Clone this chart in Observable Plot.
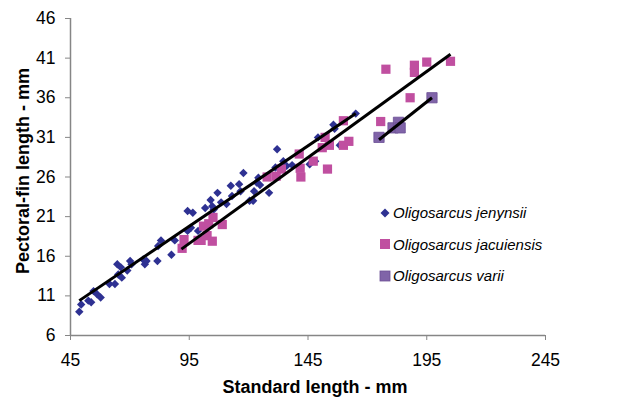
<!DOCTYPE html>
<html>
<head>
<meta charset="utf-8">
<script src="https://cdn.jsdelivr.net/npm/d3@7"></script>
<script src="https://cdn.jsdelivr.net/npm/@observablehq/plot@0.6"></script>
<style>
  html, body { margin: 0; padding: 0; background: #fff; }
  #wrap { position: relative; width: 631px; height: 402px; font-family: "Liberation Sans", Arial, sans-serif; }
  #legend { position: absolute; left: 379px; top: 197px; font-style: italic; font-size: 15px; color: #000; }
  #legend .row { height: 31.5px; display: flex; align-items: center; }
  #legend svg { margin-right: 2px; }
</style>
</head>
<body>
<div id="wrap"></div>
<script>
// Species names
const species = ["Oligosarcus jenynsii", "Oligosarcus jacuiensis", "Oligosarcus varii"];

// Oligosarcus jenynsii: standard length (mm), pectoral-fin length (mm)
const jenynsiiSL = [48.7, 49.5, 52.5, 53.7, 54.7, 56.2, 57.7, 61.4, 63.7, 64.7, 65.1, 66.6, 66.2, 68.9, 70.1, 70.7,
  75.6, 76.3, 77.0, 81.6, 81.9, 83.1, 87.5, 88.9, 94.3, 96.5, 94.3, 95.7, 98.7, 101.7, 104.0, 104.7, 105.3,
  106.9, 108.4, 110.7, 112.5, 113.0, 116.0, 116.6, 117.8, 120.4, 121.9, 122.3, 123.4, 124.1, 124.8, 128.6,
  131.3, 132.0, 134.6, 136.0, 138.3, 145.7, 148.0, 149.2, 155.7, 156.2, 158.4, 165.1];
const jenynsiiPF = [9.0, 9.9, 10.4, 10.2, 11.6, 11.2, 10.8, 12.5, 12.5, 15.0, 13.7, 13.3, 14.6, 14.2, 15.4, 15.0,
  15.6, 15.0, 15.4, 15.4, 17.3, 18.0, 16.2, 18.0, 21.7, 21.5, 19.2, 19.6, 19.2, 22.1, 23.1, 22.3, 21.9,
  24.0, 22.8, 22.6, 24.9, 23.6, 25.1, 24.2, 26.5, 23.0, 23.0, 24.2, 25.3, 25.9, 25.0, 24.0,
  27.2, 29.5, 28.0, 27.4, 27.5, 27.6, 28.0, 31.0, 32.6, 32.1, 30.0, 34.0];

// Oligosarcus jacuiensis
const jacuiensisSL = [92.0, 92.8, 98.7, 100.0, 101.0, 102.5, 103.2, 104.7, 105.0, 108.9, 127.8, 131.6, 133.8,
  141.3, 141.7, 142.0, 147.2, 151.0, 152.2, 153.2, 154.0, 159.9, 159.9, 162.2, 175.6, 177.8, 188.0, 189.8,
  189.8, 195.0, 205.0];
const jacuiensisPF = [17.0, 18.1, 18.0, 18.0, 19.8, 18.6, 20.1, 17.9, 20.9, 20.0, 26.0, 26.1, 27.0,
  28.9, 27.1, 26.0, 28.0, 29.7, 31.0, 27.0, 30.0, 33.1, 30.0, 30.5, 33.0, 39.6, 36.0, 40.1,
  39.2, 40.5, 40.6];

// Oligosarcus varii
const variiSL = [174.9, 180.8, 183.1, 183.8, 197.2];
const variiPF = [31.0, 32.2, 32.9, 32.2, 36.0];

// Fitted trend lines (end points)
const trendSpecies = ["Oligosarcus jenynsii", "Oligosarcus jacuiensis", "Oligosarcus varii"];
const trendX1 = [48.7, 91.7, 174.9];
const trendY1 = [10.4, 16.9, 30.7];
const trendX2 = [165.1, 205.0, 197.2];
const trendY2 = [34.0, 41.5, 36.0];

// Axis ticks
const xTicks = [45, 95, 145, 195, 245];
const yTicks = [6, 11, 16, 21, 26, 31, 36, 41, 46];

const xTitle = "Standard length - mm";
const yTitle = "Pectoral-fin length - mm";

const colors = {"Oligosarcus jenynsii": "#2E3192", "Oligosarcus jacuiensis": "#C04FA0", "Oligosarcus varii": "#8064A8"};

const jen = jenynsiiSL.map((x, i) => ({x, y: jenynsiiPF[i]}));
const jac = jacuiensisSL.map((x, i) => ({x, y: jacuiensisPF[i]}));
const va = variiSL.map((x, i) => ({x, y: variiPF[i]}));
const trends = trendSpecies.map((s, i) => ({s, x1: trendX1[i], y1: trendY1[i], x2: trendX2[i], y2: trendY2[i]}));

const chart = Plot.plot({
  width: 631,
  height: 402,
  marginLeft: 70,
  marginRight: 86,
  marginTop: 18,
  marginBottom: 67,
  style: {fontFamily: "'Liberation Sans', Arial, sans-serif", background: "#fff", color: "#000"},
  x: {type: "linear", domain: [45, 245], ticks: xTicks, label: null},
  y: {type: "linear", domain: [6, 46], ticks: yTicks, label: null},
  marks: [
    Plot.ruleX([45], {stroke: "#868686", strokeWidth: 1.5}),
    Plot.ruleY([6], {stroke: "#868686", strokeWidth: 1.5}),
    Plot.axisX({ticks: xTicks, tickSize: 5, tickPadding: 13, fontSize: 17.5, stroke: "#868686", label: null, tickFormat: d => String(d)}),
    Plot.axisY({ticks: yTicks, tickSize: 5, tickPadding: 10, fontSize: 17.5, stroke: "#868686", label: null, tickFormat: d => String(d)}),
    Plot.dot(jen, {x: "x", y: "y", symbol: "diamond2", r: 3.8, fill: colors["Oligosarcus jenynsii"], stroke: "none"}),
    Plot.dot(jac, {x: "x", y: "y", symbol: "square", r: 5.2, fill: colors["Oligosarcus jacuiensis"], stroke: "none"}),
    Plot.dot(va, {x: "x", y: "y", symbol: "square", r: 5.8, fill: colors["Oligosarcus varii"], stroke: "#6B4F95", strokeWidth: 0.8}),
    Plot.link(trends, {x1: "x1", y1: "y1", x2: "x2", y2: "y2", stroke: "#000", strokeWidth: 3}),
    Plot.text([xTitle], {text: d => d, frameAnchor: "bottom", dy: 52, dx: 7, fontSize: 18, fontWeight: "bold", fill: "#000", lineAnchor: "middle", textAnchor: "middle"}),
    Plot.text([yTitle], {text: d => d, frameAnchor: "left", dx: -47, dy: -6, rotate: -90, fontSize: 18, fontWeight: "bold", fill: "#000", lineAnchor: "middle", textAnchor: "middle"})
  ]
});

const wrap = document.getElementById("wrap");
wrap.appendChild(chart);

const legend = document.createElement("div");
legend.id = "legend";
const shapes = {
  "Oligosarcus jenynsii": '<svg width="12" height="12"><path d="M6 1.5L10.5 6L6 10.5L1.5 6Z" fill="#2E3192"/></svg>',
  "Oligosarcus jacuiensis": '<svg width="12" height="12"><rect x="1" y="1" width="10" height="10" fill="#C04FA0"/></svg>',
  "Oligosarcus varii": '<svg width="12" height="12"><rect x="1" y="1" width="10" height="10" fill="#8064A8" stroke="#6B4F95" stroke-width="0.8"/></svg>'
};
species.forEach(s => {
  const row = document.createElement("div");
  row.className = "row";
  row.innerHTML = shapes[s] + "<span>" + s + "</span>";
  legend.appendChild(row);
});
wrap.appendChild(legend);
</script>
</body>
</html>
